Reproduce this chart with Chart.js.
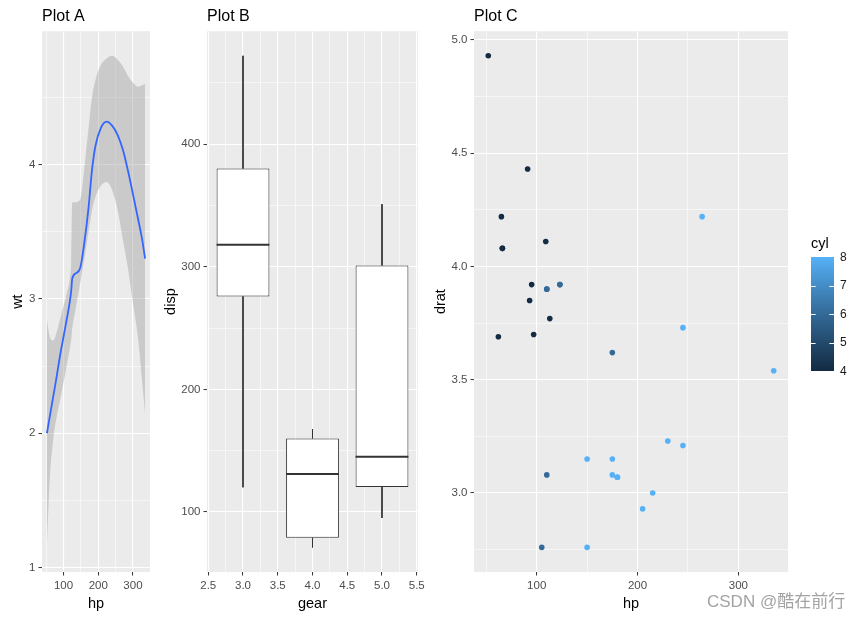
<!DOCTYPE html>
<html><head><meta charset="utf-8">
<script src="https://cdn.jsdelivr.net/npm/chart.js@4.4.1/dist/chart.umd.min.js"></script>
<style>
html,body{margin:0;padding:0;background:#fff;}
#wrap{position:relative;width:860px;height:620px;overflow:hidden;}
canvas{position:absolute;top:0;}
#wm{position:absolute;left:707px;top:592px;font-size:17px;line-height:20px;color:#a3a3a3;font-family:"Liberation Sans","Noto Sans CJK SC",sans-serif;white-space:nowrap;}
</style></head><body>
<div id="wrap">
<canvas id="cA" width="160" height="620" style="left:0px"></canvas>
<canvas id="cB" width="270" height="620" style="left:160px"></canvas>
<canvas id="cC" width="430" height="620" style="left:430px"></canvas>
<div id="wm">CSDN @酷在前行</div>
</div>
<script>
// ---------- Plot A: smoothed wt ~ hp with confidence band ----------
const fitHp   = [52,60,70,80,90,100,110,118,122,125,135,148,160,172,182,192,207,224,240,256,271,286,300,316,326,335];
const fitWt   = [2.00,2.12,2.27,2.42,2.58,2.72,2.86,2.98,3.06,3.15,3.19,3.23,3.42,3.68,3.96,4.14,4.27,4.32,4.29,4.22,4.11,3.95,3.78,3.58,3.45,3.30];
const fitLow  = [1.15,1.65,1.95,2.12,2.25,2.38,2.52,2.63,2.70,2.78,2.93,3.12,3.30,3.50,3.66,3.76,3.84,3.87,3.81,3.66,3.44,3.22,2.97,2.68,2.40,2.14];
const fitHigh = [2.85,2.72,2.69,2.75,2.85,2.95,3.05,3.15,3.28,3.72,3.72,3.74,3.98,4.27,4.50,4.63,4.74,4.79,4.81,4.78,4.73,4.66,4.61,4.58,4.59,4.60];
const aXTicks = [100,200,300];
const aYTicks = [1,2,3,4];

// ---------- Plot B: disp by gear (box statistics) ----------
const gears   = [3,4,5];
const dispMin = [120.1,71.1,95.1];
const dispQ1  = [275.8,78.925,120.3];
const dispMed = [318,130.9,145];
const dispQ3  = [380,160,301];
const dispMax = [472,167.6,351];
const bXTicks = [2.5,3.0,3.5,4.0,4.5,5.0,5.5];
const bYTicks = [100,200,300,400];

// ---------- Plot C: drat vs hp coloured by cyl ----------
const carHp   = [110,110,93,110,175,105,245,62,95,123,123,180,180,180,205,215,230,66,52,65,97,150,150,245,175,66,91,113,264,175,335,109];
const carDrat = [3.90,3.90,3.85,3.08,3.15,2.76,3.21,3.69,3.92,3.92,3.92,3.07,3.07,3.07,2.93,3.00,3.23,4.08,4.93,4.22,3.70,2.76,3.15,3.73,3.08,4.08,4.43,3.77,4.22,3.62,3.54,4.11];
const carCyl  = [6,6,4,6,8,6,8,4,4,6,6,8,8,8,8,8,8,4,4,4,4,8,8,8,8,4,4,4,8,6,8,4];
const cXTicks = [100,200,300];
const cYTicks = [3.0,3.5,4.0,4.5,5.0];
const cylTicks = [4,5,6,7,8];

// ---------- styling ----------
const FONT = '"Liberation Sans", Arial, sans-serif';
Chart.defaults.font.family = FONT;
const PANEL = '#EBEBEB';
const LOW = '#132B43', HIGH = '#56B1F7';
const BOX_W = 0.76;

function hexToRgb(h){const n=parseInt(h.slice(1),16);return [(n>>16)&255,(n>>8)&255,n&255];}
function toLin(c){c/=255;return c<=0.04045?c/12.92:Math.pow((c+0.055)/1.055,2.4);}
function fromLin(c){const v=c<=0.0031308?12.92*c:1.055*Math.pow(c,1/2.4)-0.055;return Math.round(Math.min(1,Math.max(0,v))*255);}
const WN=[0.95047,1,1.08883];
function fLab(t){return t>216/24389?Math.cbrt(t):(24389/27*t+16)/116;}
function fInv(t){const t3=t*t*t;return t3>216/24389?t3:(116*t-16)/(24389/27);}
function rgbToLab(rgb){const [r,g,b]=rgb.map(toLin);const X=(0.4124564*r+0.3575761*g+0.1804375*b)/WN[0];const Y=0.2126729*r+0.7151522*g+0.0721750*b;const Z=(0.0193339*r+0.1191920*g+0.9503041*b)/WN[2];const fx=fLab(X),fy=fLab(Y),fz=fLab(Z);return [116*fy-16,500*(fx-fy),200*(fy-fz)];}
function labToRgb([L,a,b]){const fy=(L+16)/116,fx=fy+a/500,fz=fy-b/200;const X=fInv(fx)*WN[0],Y=fInv(fy),Z=fInv(fz)*WN[2];
  const r=3.2404542*X-1.5371385*Y-0.4985314*Z,g=-0.9692660*X+1.8760108*Y+0.0415560*Z,bb=0.0556434*X-0.2040259*Y+1.0572252*Z;return [fromLin(r),fromLin(g),fromLin(bb)];}
const labLo=rgbToLab(hexToRgb(LOW)), labHi=rgbToLab(hexToRgb(HIGH));
const cylMin=Math.min(...cylTicks), cylMax=Math.max(...cylTicks);
function colorFor(v){const t=(v-cylMin)/(cylMax-cylMin);const lab=labLo.map((c,i)=>c+(labHi[i]-c)*t);const [r,g,b]=labToRgb(lab);return `rgb(${r},${g},${b})`;}

function expand(lo,hi){const d=(hi-lo)*0.05;return [lo-d,hi+d];}

function ticksWithMinors(majors,min,max){
  const step=majors[1]-majors[0];const out=[];
  for(let k=-2;k<=2*(majors.length-1)+2;k++){
    const v=majors[0]+k*step/2;
    if(v<min-1e-9||v>max+1e-9) continue;
    out.push({value:+v.toFixed(6),isMajor:k%2===0&&k>=0&&k<=2*(majors.length-1)});
  }
  return out;
}

function axis(position,range,majors,fmt,titleText,titlePad,size){
  const list=ticksWithMinors(majors,range[0],range[1]);
  const horiz=position==='bottom';
  return {
    type:'linear',position,min:range[0],max:range[1],offset:false,
    afterBuildTicks:s=>{s.ticks=list.map(t=>({value:t.value,isMajor:t.isMajor}));},
    afterFit:s=>{if(horiz)s.height=size;else s.width=size;},
    ticks:{autoSkip:false,maxRotation:0,minRotation:0,padding:3,color:'#4D4D4D',font:{size:11.5,family:FONT},
      callback:function(v,i,ticks){return ticks[i].isMajor?fmt(v):'';}},
    grid:{offset:false,drawTicks:true,tickLength:3.5,tickWidth:1,
      color:'#FFFFFF',
      lineWidth:c=>(c.tick&&c.tick.isMajor)?1.1:0.55,
      tickColor:c=>(c.tick&&c.tick.isMajor)?'#333333':'rgba(0,0,0,0)'},
    border:{display:false},
    title:{display:true,text:titleText,color:'#000000',font:{size:14.5,family:FONT},padding:titlePad}
  };
}

const panelBg={id:'panelBg',beforeDraw(chart){const {ctx,chartArea:a}=chart;ctx.save();ctx.fillStyle=PANEL;ctx.fillRect(a.left,a.top,a.right-a.left,a.bottom-a.top);ctx.restore();}};

function baseOpts(title,padRight,scales){
  return {
    responsive:false,devicePixelRatio:1,animation:false,events:[],
    layout:{padding:{left:0,right:padRight,top:0,bottom:0}},
    plugins:{legend:{display:false},tooltip:{enabled:false},
      title:{display:true,text:title,align:'start',fullSize:false,color:'#000000',font:{size:16,weight:'normal',family:FONT},padding:{top:7,bottom:5}}},
    scales
  };
}
const xPad={top:0,bottom:7.6};

// ---------- Chart A ----------
const aX=expand(Math.min(...fitHp),Math.max(...fitHp));
const aY=expand(Math.min(...fitLow),Math.max(...fitHigh));
new Chart(document.getElementById('cA'),{
  type:'scatter',
  data:{datasets:[
    {data:fitHp.map((x,i)=>({x,y:fitWt[i]})),showLine:true,borderColor:'#3366FF',borderWidth:1.8,pointRadius:0,cubicInterpolationMode:'monotone',fill:false},
    {data:fitHp.map((x,i)=>({x,y:fitLow[i]})),showLine:true,borderColor:'rgba(0,0,0,0)',borderWidth:0,pointRadius:0,cubicInterpolationMode:'monotone',fill:false},
    {data:fitHp.map((x,i)=>({x,y:fitHigh[i]})),showLine:true,borderColor:'rgba(0,0,0,0)',borderWidth:0,pointRadius:0,cubicInterpolationMode:'monotone',fill:1,backgroundColor:'rgba(153,153,153,0.4)'}
  ]},
  options:baseOpts('Plot A',10,{
    x:axis('bottom',aX,aXTicks,v=>String(v),'hp',xPad,48),
    y:axis('left',aY,aYTicks,v=>String(v),'wt',{top:9.6,bottom:0},42)
  }),
  plugins:[panelBg]
});

// ---------- Chart B ----------
const bX=expand(gears[0]-BOX_W/2,gears[gears.length-1]+BOX_W/2);
const bY=expand(Math.min(...dispMin),Math.max(...dispMax));
const bStep=(bXTicks[1]-bXTicks[0])/2;
const whisk=[];
gears.forEach((g,i)=>{whisk.push({x:g,y:dispMax[i]},{x:g,y:dispQ3[i]},{x:g,y:null},{x:g,y:dispQ1[i]},{x:g,y:dispMin[i]},{x:g,y:null});});
const medianPlugin={id:'medians',afterDatasetsDraw(chart){
  const meta=chart.getDatasetMeta(0);const ys=chart.scales.y;const ctx=chart.ctx;
  ctx.save();ctx.strokeStyle='#333333';ctx.lineWidth=2;
  meta.data.forEach((bar,i)=>{const p=ys.getPixelForValue(dispMed[i]);const h=bar.width/2;ctx.beginPath();ctx.moveTo(bar.x-h,p);ctx.lineTo(bar.x+h,p);ctx.stroke();});
  ctx.restore();}};
new Chart(document.getElementById('cB'),{
  type:'scatter',
  data:{datasets:[
    {type:'bar',data:gears.map((g,i)=>({x:g,y:[dispQ1[i],dispQ3[i]]})),backgroundColor:'#FFFFFF',borderColor:'#333333',borderWidth:1,borderSkipped:false,
      barPercentage:BOX_W/bStep,categoryPercentage:1,grouped:false},
    {type:'line',data:whisk,borderColor:'#333333',borderWidth:1,pointRadius:0,spanGaps:false,fill:false,tension:0}
  ]},
  options:baseOpts('Plot B',12,{
    x:axis('bottom',bX,bXTicks,v=>v.toFixed(1),'gear',xPad,48),
    y:axis('left',bY,bYTicks,v=>String(v),'disp',{top:2.6,bottom:0},47)
  }),
  plugins:[panelBg,medianPlugin]
});

// ---------- Chart C ----------
const cX=expand(Math.min(...carHp),Math.max(...carHp));
const cY=expand(Math.min(...carDrat),Math.max(...carDrat));
const colorbar={id:'colorbar',afterDraw(chart){
  const ctx=chart.ctx;const x0=381,w=23,top=257,bot=371;
  ctx.save();
  for(let y=top;y<bot;y++){const v=cylMax-(y+0.5-top)/(bot-top)*(cylMax-cylMin);ctx.fillStyle=colorFor(v);ctx.fillRect(x0,y,w,1);}
  ctx.strokeStyle='#FFFFFF';ctx.lineWidth=1;
  ctx.fillStyle='#1a1a1a';ctx.font='12px '+FONT;ctx.textBaseline='middle';ctx.textAlign='left';
  cylTicks.forEach(t=>{const y=bot-(t-cylMin)/(cylMax-cylMin)*(bot-top);
    if(t>cylMin&&t<cylMax){ctx.beginPath();ctx.moveTo(x0,Math.round(y)+0.5);ctx.lineTo(x0+4.6,Math.round(y)+0.5);ctx.moveTo(x0+w-4.6,Math.round(y)+0.5);ctx.lineTo(x0+w,Math.round(y)+0.5);ctx.stroke();}
    ctx.fillText(String(t),x0+w+6,y+0.5);});
  ctx.fillStyle='#000000';ctx.font='14.5px '+FONT;ctx.fillText('cyl',x0,244);
  ctx.restore();}};
new Chart(document.getElementById('cC'),{
  type:'scatter',
  data:{datasets:[
    {data:carHp.map((x,i)=>({x,y:carDrat[i]})),pointRadius:2.8,pointBorderWidth:0,
      pointBackgroundColor:carCyl.map(colorFor),pointBorderColor:carCyl.map(colorFor)}
  ]},
  options:baseOpts('Plot C',72,{
    x:axis('bottom',cX,cXTicks,v=>String(v),'hp',xPad,48),
    y:axis('left',cY,cYTicks,v=>v.toFixed(1),'drat',{top:2.6,bottom:0},44)
  }),
  plugins:[panelBg,colorbar]
});
</script>
</body></html>
